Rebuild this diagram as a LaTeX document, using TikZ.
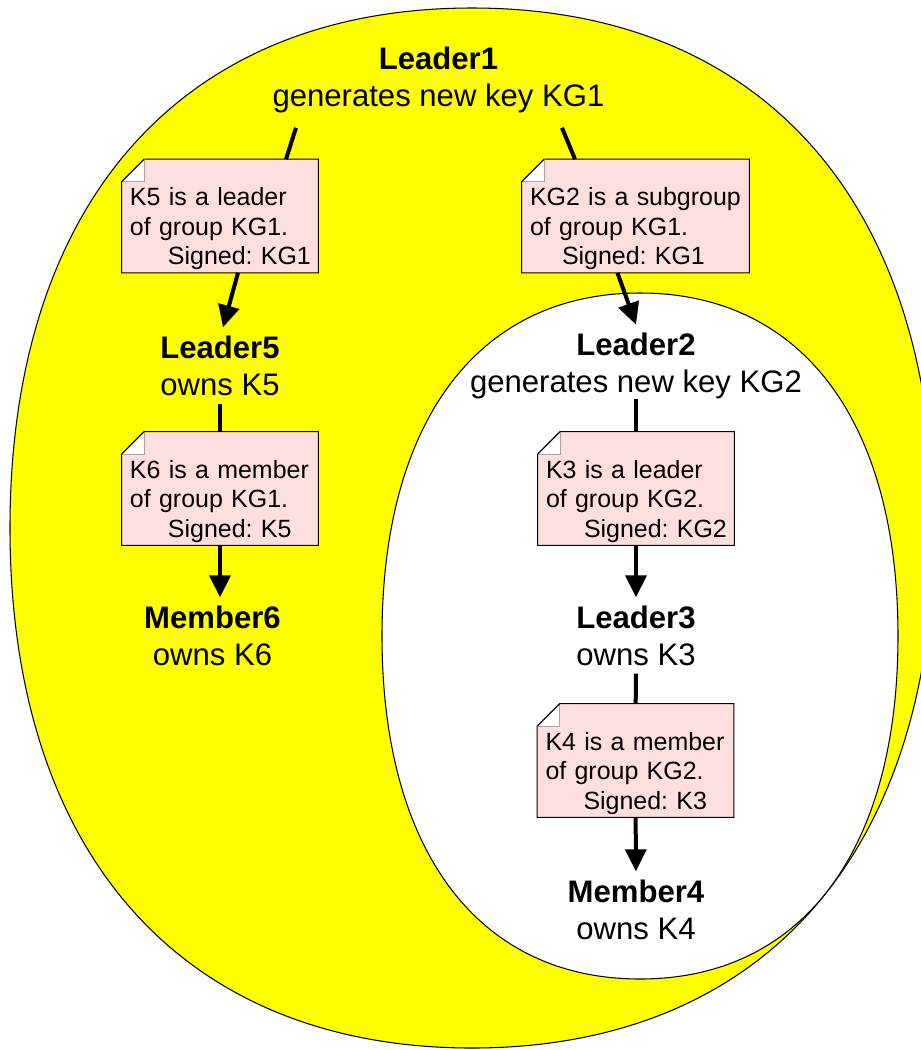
\documentclass[tikz,border=0pt]{standalone}
\usepackage{fontspec}
\setmainfont{Liberation Sans}
\usetikzlibrary{arrows.meta}
\definecolor{groupyellow}{RGB}{255,255,0}
\definecolor{notepink}{RGB}{255,222,222}
\pgfdeclarelayer{ground}
\pgfdeclarelayer{paper}
\pgfsetlayers{ground,paper,main}
\newcommand{\holderfont}{\fontsize{17.7}{21}\selectfont}
\newcommand{\notefont}{\fontsize{14.2}{16.8}\selectfont\frenchspacing}
% pink note with a folded corner, put behind the text of node #1
\newcommand{\foldnote}[1]{%
  \begin{pgfonlayer}{paper}
    \draw[line width=0.6pt,fill=notepink] ([yshift=-0.45cm]#1.north west) -- (#1.south west)
      -- (#1.south east) -- (#1.north east) -- ([xshift=0.45cm]#1.north west) -- cycle;
    \draw[fill=white,draw=black!35,line width=0.4pt] ([yshift=-0.45cm]#1.north west)
      -- ([xshift=0.45cm,yshift=-0.45cm]#1.north west) -- ([xshift=0.45cm]#1.north west);
    \draw[line width=0.6pt] ([yshift=-0.45cm]#1.north west) -- ([xshift=0.45cm]#1.north west);
  \end{pgfonlayer}}

\begin{document}
\begin{tikzpicture}[
  holder/.style={align=center,font=\holderfont,inner sep=0.16cm},
  note/.style={align=left,font=\notefont,text width=3.6cm,inner xsep=0.16cm,inner ysep=0.1cm,
    text height=0.82cm,text depth=1.24cm},
  link/.style={line width=0.08cm},
  arrowlink/.style={link,-{Triangle[length=0.44cm,width=0.42cm]}}]
\useasboundingbox (0,0) rectangle (18.42,-21);
\clip (0,0) rectangle (18.42,-21);

% the two groups
\begin{pgfonlayer}{ground}
\draw[fill=groupyellow,line width=0.6pt] (18.68,-10.56)
  .. controls (18.68,-4.039) and (15.233,-0.16) .. (9.44,-0.16)
  .. controls (3.647,-0.16) and (0.2,-4.039) .. (0.2,-10.56)
  .. controls (0.2,-17.081) and (3.647,-20.96) .. (9.44,-20.96)
  .. controls (15.233,-20.96) and (18.68,-17.081) .. (18.68,-10.56) -- cycle;
\draw[fill=white,line width=0.6pt] (17.96,-12.72)
  .. controls (17.96,-8.42) and (16.035,-5.86) .. (12.8,-5.86)
  .. controls (9.565,-5.86) and (7.64,-8.42) .. (7.64,-12.72)
  .. controls (7.64,-17.02) and (9.565,-19.58) .. (12.8,-19.58)
  .. controls (16.035,-19.58) and (17.96,-17.02) .. (17.96,-12.72) -- cycle;
\end{pgfonlayer}

\node[holder] (leader1) at (8.77,-1.59) {\textbf{Leader1}\\generates new key KG1};
\node[holder] (leader5) at (4.40,-7.31) {\textbf{Leader5}\\owns K5};
\node[holder] (member6) at (4.25,-12.71) {\textbf{Member6}\\owns K6};
\node[holder] (leader2) at (12.72,-7.32) {\textbf{Leader2}\\generates new key KG2};
\node[holder] (leader3) at (12.72,-12.71) {\textbf{Leader3}\\owns K3};
\node[holder] (member4) at (12.72,-18.19) {\textbf{Member4}\\owns K4};

\node[note] (k5note) at (4.40,-4.32) {K5 is a leader\\of group KG1.\\\hspace*{0.76cm}\mbox{Signed: KG1}};
\node[note,text width=4.22cm] (kg2note) at (12.71,-4.32) {KG2 is a subgroup\\of group KG1.\\\hspace*{0.64cm}\mbox{Signed: KG1}};
\node[note] (k6note) at (4.40,-9.77) {K6 is a member\\of group KG1.\\\hspace*{0.76cm}\mbox{Signed: K5}};
\node[note] (k3note) at (12.72,-9.77) {K3 is a leader\\of group KG2.\\\hspace*{0.76cm}\mbox{Signed: KG2}};
\node[note] (k4note) at (12.71,-15.21) {K4 is a member\\of group KG2.\\\hspace*{0.76cm}\mbox{Signed: K3}};

\foldnote{k5note}
\foldnote{kg2note}
\foldnote{k6note}
\foldnote{k3note}
\foldnote{k4note}

\draw[link] ([xshift=-2.85cm,yshift=-0.14cm]leader1.south) -- ([xshift=1.32cm]k5note.north);
\draw[arrowlink] ([xshift=0.36cm]k5note.south) -- ([xshift=0.06cm]leader5.north);
\draw[link] ([xshift=2.47cm,yshift=-0.14cm]leader1.south) -- ([xshift=-1.21cm]kg2note.north);
\draw[arrowlink] ([xshift=-0.36cm]kg2note.south) -- (leader2.north);
\draw[link] (leader5) -- (k6note);
\draw[arrowlink] (k6note) -- (k6note |- member6.north);
\draw[link] ([yshift=0.16cm]leader2.south) -- (k3note.north);
\draw[arrowlink] (k3note) -- (leader3);
\draw[link] (leader3) -- (k4note);
\draw[arrowlink] (k4note) -- (member4);
\end{tikzpicture}
\end{document}
